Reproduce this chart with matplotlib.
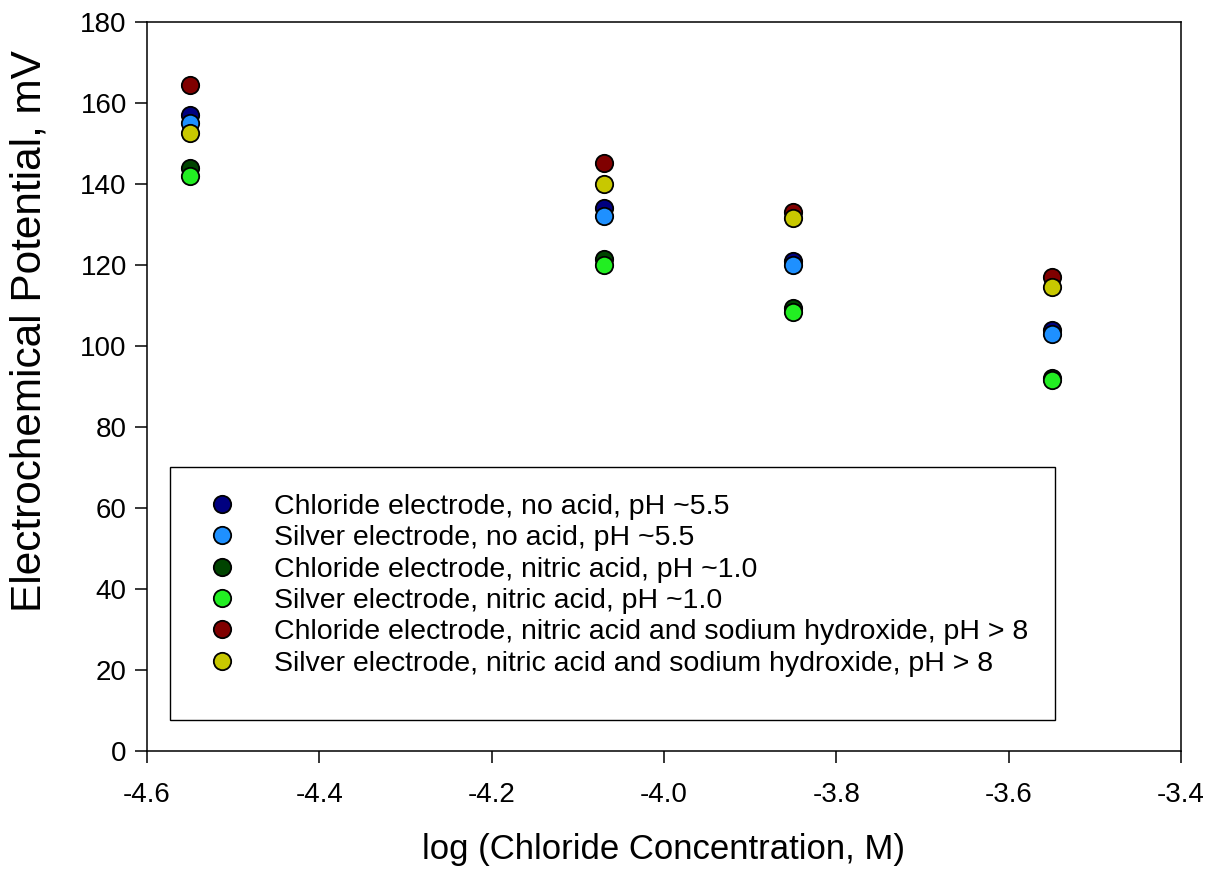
import numpy as np
import matplotlib.pyplot as plt
from matplotlib.patches import Rectangle

plt.rcParams['font.family'] = ['Liberation Sans', 'DejaVu Sans']

# log of chloride concentration (M)
log_conc = [-4.55, -4.07, -3.85, -3.55]

# electrochemical potential, mV
chloride_no_acid = [157.0, 134.0, 121.0, 104.0]
silver_no_acid = [155.0, 132.0, 120.0, 103.0]
chloride_nitric = [144.0, 121.5, 109.3, 92.0]
silver_nitric = [142.0, 120.0, 108.3, 91.7]
chloride_naoh = [164.5, 145.3, 133.2, 117.0]
silver_naoh = [152.5, 140.0, 131.5, 114.5]

series = [
    (chloride_no_acid, '#000080', 'Chloride electrode, no acid, pH ~5.5'),
    (silver_no_acid, '#1e90ff', 'Silver electrode, no acid, pH ~5.5'),
    (chloride_nitric, '#004400', 'Chloride electrode, nitric acid, pH ~1.0'),
    (silver_nitric, '#22ee22', 'Silver electrode, nitric acid, pH ~1.0'),
    (chloride_naoh, '#800000', 'Chloride electrode, nitric acid and sodium hydroxide, pH > 8'),
    (silver_naoh, '#c8c800', 'Silver electrode, nitric acid and sodium hydroxide, pH > 8'),
]

fig = plt.figure(figsize=(12.17, 8.73), dpi=100)
ax = fig.add_axes([0.1208, 0.1397, 0.8496, 0.8351])

for vals, col, lab in series:
    ax.plot(log_conc, vals, linestyle='none', marker='o', markersize=12.5,
            markerfacecolor=col, markeredgecolor='black', markeredgewidth=1.3, label=lab)

ax.set_xlim(-4.6, -3.4)
ax.set_ylim(0, 180)
ticks_x = np.arange(-4.6, -3.39, 0.2)
ax.set_xticks(ticks_x)
ax.set_xticklabels(['%.1f' % t for t in ticks_x])
ax.set_yticks(np.arange(0, 181, 20))
ax.tick_params(axis='both', direction='out', length=8.5, width=1.1, labelsize=20, top=False, right=False)
ax.tick_params(axis='x', pad=14)
ax.tick_params(axis='y', pad=6)
for s in ax.spines.values():
    s.set_linewidth(1.1)

ax.set_xlabel('log (Chloride Concentration, M)', fontsize=25, labelpad=18)
ax.set_ylabel('Electrochemical Potential, mV', fontsize=30.5)
ax.yaxis.set_label_coords(-0.094, 0.576)

# legend box
ax.add_patch(Rectangle((0.022, 0.0425), 0.856, 0.3475, transform=ax.transAxes,
                       facecolor='white', edgecolor='black', linewidth=1.0, zorder=3))
leg = ax.legend(loc='upper left', bbox_to_anchor=(0.059, 0.353), frameon=False,
                fontsize=20.5, labelspacing=0.19, handlelength=1.0, handletextpad=1.3,
                borderpad=0, borderaxespad=0)
leg.set_zorder(4)

fig.savefig('out.png', dpi=100)
